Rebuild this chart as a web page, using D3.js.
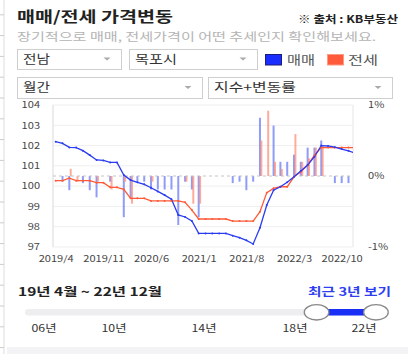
<!DOCTYPE html>
<html><head><meta charset="utf-8">
<script src="https://cdn.jsdelivr.net/npm/d3@7"></script>
<style>html,body{margin:0;padding:0;background:#fff;overflow:hidden}</style>
</head><body><svg id="c" width="408" height="354"></svg>
<script>
const months = ["2019/4","2019/5","2019/6","2019/7","2019/8","2019/9","2019/10","2019/11","2019/12",
"2020/1","2020/2","2020/3","2020/4","2020/5","2020/6","2020/7","2020/8","2020/9","2020/10","2020/11","2020/12",
"2021/1","2021/2","2021/3","2021/4","2021/5","2021/6","2021/7","2021/8","2021/9","2021/10","2021/11","2021/12",
"2022/1","2022/2","2022/3","2022/4","2022/5","2022/6","2022/7","2022/8","2022/9","2022/10","2022/11","2022/12"];
const saleIndex = [102.19,102.11,101.91,101.90,101.75,101.53,101.29,101.27,101.17,101.17,100.55,100.30,100.19,100.09,99.92,
99.74,99.56,99.36,98.58,98.48,98.28,97.67,97.67,97.67,97.67,97.67,97.56,97.46,97.33,97.15,
97.95,99.07,99.80,99.97,100.19,100.46,100.75,101.04,101.45,102.00,101.98,101.92,101.83,101.74,101.63];
const jeonseIndex = [100.27,100.27,100.39,100.27,100.27,100.27,100.17,100.17,99.94,99.94,99.84,99.40,99.40,99.40,99.27,
99.27,99.27,99.27,99.27,99.20,98.82,98.38,98.38,98.38,98.38,98.38,98.28,98.28,98.28,98.28,
98.74,99.68,99.89,99.97,99.97,100.46,100.71,101.04,101.53,101.90,101.90,101.90,101.90,101.90,101.90];
const saleChange = [0,-0.08,-0.2,0,-0.1,-0.2,-0.3,0,-0.08,0,-0.58,-0.3,-0.08,-0.08,-0.19,
-0.19,-0.19,-0.19,-0.69,-0.08,-0.19,-0.58,0,0,0,0,-0.1,-0.08,-0.2,-0.08,
0.82,0,0.71,0.2,0.2,0.3,0.2,0.4,0.4,0.5,0,-0.1,-0.1,-0.1,-0.1];
const jeonseChange = [0,0,0.1,-0.08,0,0,-0.08,0,-0.19,0,-0.08,-0.39,0,0,-0.08,
0,0,0,0,-0.08,-0.39,-0.39,0,0,0,0,0,0,0,0,
0.5,0.92,0.2,0.1,0,0.59,0.2,0.25,0.4,0.42,0,0,0,0,0];
const xTicks = ["2019/4","2019/11","2020/6","2021/1","2021/8","2022/3","2022/10"];
const leftTicks = [97,98,99,100,101,102,103,104];
const rightTicks = [-1,0,1];
const sliderYears = [2006,2010,2014,2018,2022];
const sliderRange = [2019.25,2022.92];

const svg = d3.select("#c");
const F = "'Noto Sans CJK KR','Noto Sans',sans-serif";
function fit(sel,w){ sel.attr("textLength",w).attr("lengthAdjust","spacingAndGlyphs"); return sel; }
function stretch(sel,k){ sel.each(function(){ const l=this.getComputedTextLength(); d3.select(this).attr("textLength",l*k).attr("lengthAdjust","spacingAndGlyphs");}); }

// page frame
svg.append("line").attr("x1",4).attr("x2",4).attr("y1",0).attr("y2",354).attr("stroke","#ddd");
for(let k=0;k<17;k++){ svg.append("line").attr("x1",0).attr("x2",4).attr("y1",14.8+20.8*k).attr("y2",14.8+20.8*k).attr("stroke","#ccc"); }
svg.append("rect").attr("x",7).attr("y",347).attr("width",401).attr("height",7).attr("fill","#f3f3f5");

// header
fit(svg.append("text").attr("x",17).attr("y",22).attr("font-family",F).attr("font-size",15).attr("font-weight","bold").attr("fill","#222").text("매매/전세 가격변동"),156);
fit(svg.append("text").attr("x",298).attr("y",23).attr("font-family",F).attr("font-size",10.5).attr("font-weight","bold").attr("fill","#222").text("※ 출처 : KB부동산"),100);
fit(svg.append("text").attr("x",17).attr("y",41).attr("font-family",F).attr("font-size",11).attr("fill","#b4b4b4").text("장기적으로 매매, 전세가격이 어떤 추세인지 확인해보세요."),359);

// dropdowns
function dropdown(x,y,w,h,label,tw){
  svg.append("rect").attr("x",x+0.5).attr("y",y+0.5).attr("width",w).attr("height",h).attr("fill","#fff").attr("stroke","#cfcfcf");
  fit(svg.append("text").attr("x",x+6).attr("y",y+h/2+4.5).attr("font-family",F).attr("font-size",12.5).attr("fill","#333").text(label),tw);
  const ax=x+w-14, ay=y+h/2-1.5;
  svg.append("path").attr("d",`M${ax-3.5},${ay}L${ax+3.5},${ay}L${ax},${ay+3}Z`).attr("fill","#aaa");
}
dropdown(17,49,104,20,"전남",27);
dropdown(129,49,128,20,"목포시",42);
dropdown(17,77,185,21,"월간",27);
dropdown(208,77,184,21,"지수+변동률",82);
// legend
svg.append("rect").attr("x",265.5).attr("y",54.5).attr("width",16).attr("height",10.5).attr("fill","#1a2dff").attr("stroke","#1c1c7a");
fit(svg.append("text").attr("x",287).attr("y",64.5).attr("font-family",F).attr("font-size",12.5).attr("fill","#555").text("매매"),28);
svg.append("rect").attr("x",327.5).attr("y",54.5).attr("width",16).attr("height",10.5).attr("fill","#ff5a3a").attr("stroke","#ff9a80");
fit(svg.append("text").attr("x",348).attr("y",64.5).attr("font-family",F).attr("font-size",12.5).attr("fill","#555").text("전세"),30);

// chart
const P={l:53,r:353,t:105,b:247};
const x=d3.scalePoint().domain(months).range([55.7,355.3]);
const yL=d3.scaleLinear().domain([97,104]).range([P.b,P.t]);
const yR=d3.scaleLinear().domain([-1,1]).range([P.b,P.t]);
svg.append("defs").append("clipPath").attr("id","pc").append("rect").attr("x",P.l).attr("y",P.t-2).attr("width",P.r-P.l).attr("height",P.b-P.t+4);

const grid=svg.append("g");
leftTicks.forEach(t=>grid.append("line").attr("x1",P.l).attr("x2",P.r).attr("y1",yL(t)).attr("y2",yL(t)).attr("stroke","#efefef"));
grid.append("line").attr("x1",P.l).attr("x2",P.l).attr("y1",P.t).attr("y2",P.b).attr("stroke","#e6e6e6").attr("stroke-width",1.5);
grid.append("line").attr("x1",P.r).attr("x2",P.r).attr("y1",P.t).attr("y2",P.b).attr("stroke","#eeeeee").attr("stroke-width",1.5);

const g=svg.append("g").attr("clip-path","url(#pc)");
g.selectAll(".bb").data(saleChange).join("rect")
  .attr("x",(d,i)=>x(months[i])-1).attr("width",2)
  .attr("y",d=>yR(Math.max(0,d))).attr("height",d=>Math.abs(yR(d)-yR(0)))
  .attr("fill","#6b7cf5").attr("opacity",0.75);
g.selectAll(".rb").data(jeonseChange).join("rect")
  .attr("x",(d,i)=>x(months[i])+0.4).attr("width",2)
  .attr("y",d=>yR(Math.max(0,d))).attr("height",d=>Math.abs(yR(d)-yR(0)))
  .attr("fill","#ff8a75").attr("opacity",0.72);
g.append("line").attr("x1",P.l).attr("x2",P.r).attr("y1",yR(0)).attr("y2",yR(0)).attr("stroke","#c4c4c4").attr("stroke-dasharray","3,3");

const line=d3.line().x((d,i)=>x(months[i])).y(d=>yL(d));
g.append("path").datum(jeonseIndex).attr("d",line).attr("fill","none").attr("stroke","#ff5a38").attr("stroke-width",1.3);
g.append("path").datum(saleIndex).attr("d",line).attr("fill","none").attr("stroke","#2a3cf2").attr("stroke-width",1.3);
g.selectAll(".rd").data(jeonseIndex).join("circle").attr("cx",(d,i)=>x(months[i])).attr("cy",d=>yL(d)).attr("r",1).attr("fill","#ff5a38");
g.selectAll(".bd").data(saleIndex).join("circle").attr("cx",(d,i)=>x(months[i])).attr("cy",d=>yL(d)).attr("r",1).attr("fill","#2a3cf2");

// axes
const ax1=svg.append("g").attr("transform",`translate(${P.l},0)`).call(d3.axisLeft(yL).tickValues(leftTicks).tickSize(0).tickPadding(13).tickFormat(d3.format("d")));
const ax2=svg.append("g").attr("transform",`translate(${P.r},0)`).call(d3.axisRight(yR).tickValues(rightTicks).tickSize(0).tickPadding(15).tickFormat(d=>d+"%"));
const ax3=svg.append("g").attr("transform",`translate(0,${P.b})`).call(d3.axisBottom(x).tickValues(xTicks).tickSize(0).tickPadding(9));
[ax1,ax2,ax3].forEach(a=>{a.select(".domain").remove(); a.selectAll("text").attr("font-family",F).attr("font-size",8.5).attr("fill","#444");});
[ax1,ax2,ax3].forEach(a=>stretch(a.selectAll("text"),1.3));

// slider
fit(svg.append("text").attr("x",18).attr("y",296).attr("font-family",F).attr("font-size",11.5).attr("font-weight","bold").attr("fill","#222").text("19년 4월 ~ 22년 12월"),144);
fit(svg.append("text").attr("x",308).attr("y",296).attr("font-family",F).attr("font-size",11.5).attr("font-weight","bold").attr("fill","#2f3ff0").text("최근 3년 보기"),83);
const sx=d3.scaleLinear().domain([2006,2010,2014,2018,2022,2023]).range([44,114,204,295,364,377]);
svg.append("rect").attr("x",25).attr("y",309).attr("width",362).attr("height",6.5).attr("rx",3.2).attr("fill","#eeeef0");
svg.append("rect").attr("x",sx(sliderRange[0])).attr("y",309).attr("width",sx(sliderRange[1])-sx(sliderRange[0])).attr("height",6.5).attr("fill","#1a2ff5");
sliderRange.forEach(v=>svg.append("ellipse").attr("cx",sx(v)).attr("cy",312.3).attr("rx",12.3).attr("ry",7.7).attr("fill","#fff").attr("stroke","#888").attr("stroke-width",1.3));
sliderYears.forEach(v=>{
  fit(svg.append("text").attr("x",sx(v)).attr("y",332).attr("text-anchor","middle").attr("font-family",F).attr("font-size",10).attr("fill","#333").text(String(v).slice(2)+"년"),25);
});
</script></body></html>
